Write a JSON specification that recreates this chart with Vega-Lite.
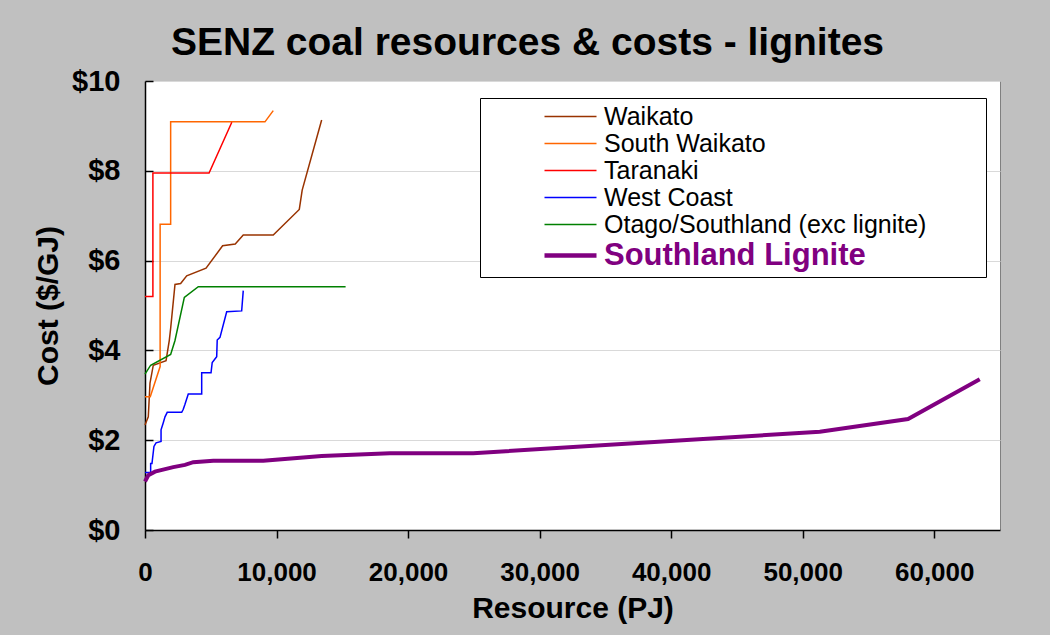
{
  "$schema": "https://vega.github.io/schema/vega-lite/v6.json",
  "width": 855,
  "height": 449,
  "autosize": {"type": "none"},
  "padding": {"left": 145, "top": 81, "right": 50, "bottom": 105},
  "background": "#c0c0c0",
  "config": {
    "font": "Liberation Sans",
    "view": {"fill": "white", "stroke": "#808080", "strokeWidth": 1}
  },
  "title": {
    "text": "SENZ coal resources & costs - lignites",
    "fontSize": 39,
    "fontWeight": "bold",
    "color": "black",
    "anchor": "middle",
    "dx": -45,
    "offset": 4
  },
  "data": {
    "values": [
      {"region": "Waikato", "pj": 0, "cost": 2.34},
      {"region": "Waikato", "pj": 250, "cost": 2.52},
      {"region": "Waikato", "pj": 380, "cost": 3.27},
      {"region": "Waikato", "pj": 630, "cost": 3.67},
      {"region": "Waikato", "pj": 1600, "cost": 3.77},
      {"region": "Waikato", "pj": 1850, "cost": 4.23},
      {"region": "Waikato", "pj": 1950, "cost": 4.49},
      {"region": "Waikato", "pj": 2280, "cost": 5.47},
      {"region": "Waikato", "pj": 2710, "cost": 5.49},
      {"region": "Waikato", "pj": 3170, "cost": 5.66},
      {"region": "Waikato", "pj": 4640, "cost": 5.83},
      {"region": "Waikato", "pj": 5900, "cost": 6.33},
      {"region": "Waikato", "pj": 6860, "cost": 6.37},
      {"region": "Waikato", "pj": 7470, "cost": 6.57},
      {"region": "Waikato", "pj": 9750, "cost": 6.57},
      {"region": "Waikato", "pj": 11730, "cost": 7.14},
      {"region": "Waikato", "pj": 11950, "cost": 7.57},
      {"region": "Waikato", "pj": 13430, "cost": 9.13},
      {"region": "South Waikato", "pj": 0, "cost": 2.97},
      {"region": "South Waikato", "pj": 400, "cost": 2.97},
      {"region": "South Waikato", "pj": 1150, "cost": 3.64},
      {"region": "South Waikato", "pj": 1150, "cost": 6.81},
      {"region": "South Waikato", "pj": 1950, "cost": 6.81},
      {"region": "South Waikato", "pj": 1950, "cost": 9.09},
      {"region": "South Waikato", "pj": 9120, "cost": 9.09},
      {"region": "South Waikato", "pj": 9750, "cost": 9.34},
      {"region": "Taranaki", "pj": 0, "cost": 5.2},
      {"region": "Taranaki", "pj": 600, "cost": 5.2},
      {"region": "Taranaki", "pj": 600, "cost": 7.95},
      {"region": "Taranaki", "pj": 4870, "cost": 7.95},
      {"region": "Taranaki", "pj": 6600, "cost": 9.08},
      {"region": "West Coast", "pj": 0, "cost": 1.28},
      {"region": "West Coast", "pj": 430, "cost": 1.28},
      {"region": "West Coast", "pj": 430, "cost": 1.48},
      {"region": "West Coast", "pj": 530, "cost": 1.48},
      {"region": "West Coast", "pj": 680, "cost": 1.86},
      {"region": "West Coast", "pj": 840, "cost": 1.94},
      {"region": "West Coast", "pj": 1220, "cost": 1.97},
      {"region": "West Coast", "pj": 1220, "cost": 2.23},
      {"region": "West Coast", "pj": 1390, "cost": 2.39},
      {"region": "West Coast", "pj": 1520, "cost": 2.52},
      {"region": "West Coast", "pj": 1690, "cost": 2.62},
      {"region": "West Coast", "pj": 2790, "cost": 2.62},
      {"region": "West Coast", "pj": 2910, "cost": 2.69},
      {"region": "West Coast", "pj": 3040, "cost": 2.8},
      {"region": "West Coast", "pj": 3290, "cost": 3.03},
      {"region": "West Coast", "pj": 4310, "cost": 3.03},
      {"region": "West Coast", "pj": 4310, "cost": 3.5},
      {"region": "West Coast", "pj": 5020, "cost": 3.5},
      {"region": "West Coast", "pj": 5110, "cost": 3.73},
      {"region": "West Coast", "pj": 5450, "cost": 3.86},
      {"region": "West Coast", "pj": 5490, "cost": 4.23},
      {"region": "West Coast", "pj": 5700, "cost": 4.29},
      {"region": "West Coast", "pj": 6210, "cost": 4.86},
      {"region": "West Coast", "pj": 7350, "cost": 4.88},
      {"region": "West Coast", "pj": 7470, "cost": 5.33},
      {"region": "Otago/Southland (exc lignite)", "pj": 0, "cost": 3.47},
      {"region": "Otago/Southland (exc lignite)", "pj": 430, "cost": 3.67},
      {"region": "Otago/Southland (exc lignite)", "pj": 1950, "cost": 3.91},
      {"region": "Otago/Southland (exc lignite)", "pj": 2280, "cost": 4.22},
      {"region": "Otago/Southland (exc lignite)", "pj": 2990, "cost": 5.18},
      {"region": "Otago/Southland (exc lignite)", "pj": 4050, "cost": 5.42},
      {"region": "Otago/Southland (exc lignite)", "pj": 15250, "cost": 5.42},
      {"region": "Southland Lignite", "pj": 0, "cost": 1.08},
      {"region": "Southland Lignite", "pj": 250, "cost": 1.22},
      {"region": "Southland Lignite", "pj": 760, "cost": 1.3},
      {"region": "Southland Lignite", "pj": 2150, "cost": 1.4},
      {"region": "Southland Lignite", "pj": 3040, "cost": 1.45},
      {"region": "Southland Lignite", "pj": 3670, "cost": 1.51},
      {"region": "Southland Lignite", "pj": 5190, "cost": 1.54},
      {"region": "Southland Lignite", "pj": 8990, "cost": 1.54},
      {"region": "Southland Lignite", "pj": 13430, "cost": 1.65},
      {"region": "Southland Lignite", "pj": 18620, "cost": 1.71},
      {"region": "Southland Lignite", "pj": 24950, "cost": 1.71},
      {"region": "Southland Lignite", "pj": 51300, "cost": 2.19},
      {"region": "Southland Lignite", "pj": 58010, "cost": 2.47},
      {"region": "Southland Lignite", "pj": 63460, "cost": 3.36}
    ]
  },
  "mark": {"type": "line", "strokeJoin": "miter"},
  "encoding": {
    "x": {
      "field": "pj",
      "type": "quantitative",
      "scale": {"domain": [0, 65000], "nice": false, "zero": true},
      "axis": {
        "title": "Resource (PJ)",
        "values": [0, 10000, 20000, 30000, 40000, 50000, 60000],
        "labelExpr": "format(datum.value, ',')",
        "grid": false,
        "labelFontSize": 26,
        "labelFontWeight": "bold",
        "labelColor": "black",
        "labelPadding": 21,
        "labelFlush": false,
        "labelOverlap": false,
        "tickSize": 8,
        "tickColor": "black",
        "tickWidth": 1.5,
        "domainColor": "black",
        "domainWidth": 1.5,
        "titleFontSize": 30,
        "titleFontWeight": "bold",
        "titleColor": "black",
        "titlePadding": 8
      }
    },
    "y": {
      "field": "cost",
      "type": "quantitative",
      "scale": {"domain": [0, 10], "nice": false},
      "axis": {
        "title": "Cost ($/GJ)",
        "values": [0, 2, 4, 6, 8, 10],
        "labelExpr": "'$' + datum.value",
        "grid": true,
        "gridColor": "#d9d9d9",
        "gridWidth": 1,
        "labelFontSize": 29,
        "labelFontWeight": "bold",
        "labelColor": "black",
        "labelPadding": 33,
        "labelFlush": false,
        "labelOverlap": false,
        "tickSize": -8,
        "tickColor": "black",
        "tickWidth": 1.5,
        "domainColor": "black",
        "domainWidth": 1.5,
        "titleFontSize": 30,
        "titleFontWeight": "bold",
        "titleColor": "black",
        "titlePadding": 8
      }
    },
    "color": {
      "field": "region",
      "type": "nominal",
      "scale": {
        "domain": ["Waikato", "South Waikato", "Taranaki", "West Coast", "Otago/Southland (exc lignite)", "Southland Lignite"],
        "range": ["#993300", "#ff6600", "#ff0000", "#0000ff", "#008000", "#800080"]
      },
      "legend": {
        "title": null,
        "orient": "none",
        "legendX": 335,
        "legendY": 17,
        "padding": 6,
        "rowPadding": 1,
        "fillColor": "white",
        "strokeColor": "black",
        "symbolType": "stroke",
        "symbolSize": 2704,
        "symbolOffset": 72,
        "labelOffset": 21,
        "symbolStrokeWidth": {"expr": "datum.value == 'Southland Lignite' ? 4.5 : 1.5"},
        "labelExpr": "datum.label + '\u00a0\u00a0\u00a0\u00a0\u00a0\u2800'",
        "labelLimit": 0,
        "labelFontSize": {"expr": "datum.value == 'Southland Lignite' ? 31 : 25"},
        "labelFontWeight": {"expr": "datum.value == 'Southland Lignite' ? 'bold' : 'normal'"},
        "labelColor": {"expr": "datum.value == 'Southland Lignite' ? '#800080' : 'black'"}
      }
    },
    "strokeWidth": {
      "condition": {"test": "datum.region == 'Southland Lignite'", "value": 4},
      "value": 1.5
    },
    "order": {"value": null}
  }
}
